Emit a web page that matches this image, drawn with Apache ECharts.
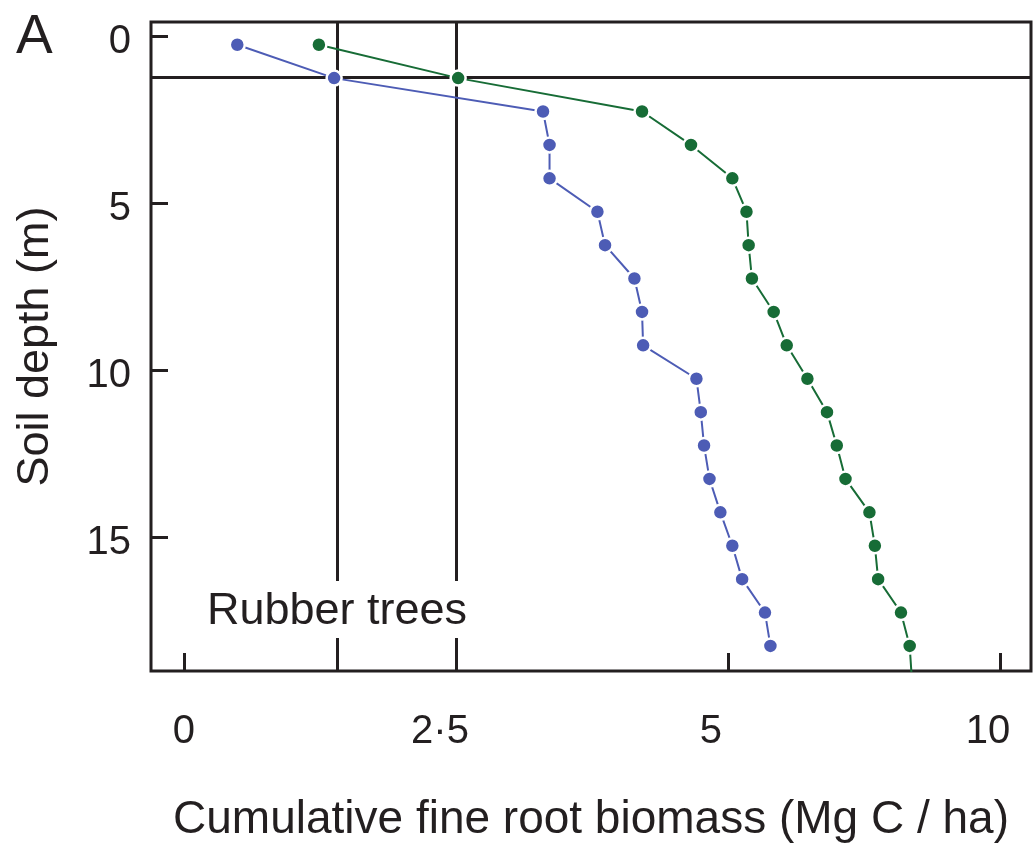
<!DOCTYPE html>
<html>
<head>
<meta charset="utf-8">
<title>Cumulative fine root biomass – Rubber trees</title>
<script src="https://cdn.jsdelivr.net/npm/echarts@6/dist/echarts.min.js"></script>
<style>
  html, body { margin: 0; padding: 0; background: #ffffff; }
  #chart { width: 1033px; height: 844px; }
</style>
</head>
<body>
<div id="chart"></div>
<script>
// Soil depth of each sampling layer (m)
const depths = [0.25, 1.25, 2.25, 3.25, 4.25, 5.25, 6.25, 7.25, 8.25, 9.25,
                10.25, 11.25, 12.25, 13.25, 14.25, 15.25, 16.25, 17.25, 18.25, 19.25];

// Cumulative fine root biomass (Mg C / ha) down the profile
const blueBiomass = [0.49, 1.38, 3.30, 3.36, 3.36, 3.80, 3.87, 4.14, 4.21, 4.22,
                     4.71, 4.75, 4.78, 4.83, 4.93, 5.04, 5.13, 5.34, 5.39];
const greenBiomass = [1.24, 2.52, 4.21, 4.66, 5.04, 5.17, 5.19, 5.22, 5.42, 5.54,
                      5.73, 5.91, 6.00, 6.08, 6.30, 6.35, 6.38, 6.59, 6.67, 6.69];

// Reference lines: depth of the top layer boundary, biomass reached there
const boundaryDepth = [1.22];
const boundaryBiomass = [1.41, 2.5];

// Axis ticks and their labels
const depthTicks = [0, 5, 10, 15];
const biomassTickValues = [0, 2.5, 5, 7.5];
const biomassTickText = ['0', '2·5', '5', '10'];

const INK = '#231f20';
const FONT = "'Liberation Sans', Arial, Helvetica, sans-serif";
const BLUE = '#4d5cb5';
const GREEN = '#176c36';

// Right padding that nudges each x label slightly left of its tick
const xLabelPad = [0, 32, 34, 24];

function pairs(values) {
  return values.map((v, i) => [v, depths[i]]);
}

const richX = {};
xLabelPad.forEach((p, i) => {
  richX['p' + i] = { fontSize: 40, fontFamily: FONT, color: INK, padding: [0, p, 0, 0] };
});

const chart = echarts.init(document.getElementById('chart'), null, { renderer: 'canvas' });

const markerStyle = (color) => ({
  color: color,
  borderColor: '#ffffff',
  borderWidth: 2.5
});

chart.setOption({
  animation: false,
  backgroundColor: '#ffffff',
  grid: {
    left: 151, top: 22, right: 2, bottom: 173,
    outerBoundsMode: 'none',
    containLabel: false,
    show: true,
    borderColor: INK,
    borderWidth: 3,
    backgroundColor: 'transparent'
  },
  xAxis: {
    type: 'value',
    min: -0.303,
    max: 7.785,
    position: 'bottom',
    axisLine: { show: false, onZero: false },
    splitLine: { show: false },
    axisTick: {
      show: true, inside: true, length: 18,
      customValues: biomassTickValues,
      lineStyle: { color: INK, width: 3 }
    },
    axisLabel: {
      customValues: biomassTickValues,
      margin: 41,
      fontSize: 40,
      fontFamily: FONT,
      color: INK,
      formatter: function (v) {
        const i = biomassTickValues.indexOf(v);
        return i < 0 ? '' : '{p' + i + '|' + biomassTickText[i] + '}';
      },
      rich: richX
    },
    name: 'Cumulative fine root biomass (Mg C / ha)',
    nameLocation: 'middle',
    nameGap: 126,
    nameTextStyle: { fontSize: 46, fontFamily: FONT, color: INK }
  },
  yAxis: {
    type: 'value',
    inverse: true,
    min: -0.43,
    max: 19.0,
    position: 'left',
    axisLine: { show: false, onZero: false },
    splitLine: { show: false },
    axisTick: {
      show: true, inside: true, length: 17,
      customValues: depthTicks,
      lineStyle: { color: INK, width: 3 }
    },
    axisLabel: {
      customValues: depthTicks,
      margin: 20,
      fontSize: 40,
      fontFamily: FONT,
      color: INK,
      verticalAlign: 'top',
      lineHeight: 12
    },
    name: 'Soil depth (m)',
    nameLocation: 'middle',
    nameGap: 93,
    nameTextStyle: { fontSize: 45, fontFamily: FONT, color: INK }
  },
  series: [
    {
      type: 'line',
      name: 'reference',
      data: [],
      z: 1,
      silent: true,
      markLine: {
        z: 1,
        silent: true,
        symbol: ['none', 'none'],
        label: { show: false },
        lineStyle: { color: INK, width: 3, type: 'solid' },
        emphasis: { disabled: true },
        data: boundaryDepth.map(d => ({ yAxis: d }))
          .concat(boundaryBiomass.map(b => ({ xAxis: b })))
      }
    },
    {
      type: 'line',
      name: 'blue',
      data: pairs(blueBiomass),
      z: 3,
      clip: true,
      symbol: 'circle',
      symbolSize: 15,
      lineStyle: { color: BLUE, width: 2 },
      itemStyle: markerStyle(BLUE)
    },
    {
      type: 'line',
      name: 'green',
      data: pairs(greenBiomass),
      z: 3,
      clip: true,
      symbol: 'circle',
      symbolSize: 15,
      lineStyle: { color: GREEN, width: 2 },
      itemStyle: markerStyle(GREEN)
    }
  ],
  graphic: [
    {
      type: 'text',
      z: 10,
      x: 16, y: 38,
      style: { text: 'A', font: '55px ' + FONT, fill: INK, align: 'left', verticalAlign: 'middle' }
    },
    {
      type: 'rect',
      z: 10,
      shape: { x: 198, y: 581, width: 280, height: 57 },
      style: { fill: '#ffffff' }
    },
    {
      type: 'text',
      z: 11,
      x: 337, y: 612,
      style: { text: 'Rubber trees', font: '45px ' + FONT, fill: INK, align: 'center', verticalAlign: 'middle' }
    }
  ]
});
</script>
</body>
</html>
